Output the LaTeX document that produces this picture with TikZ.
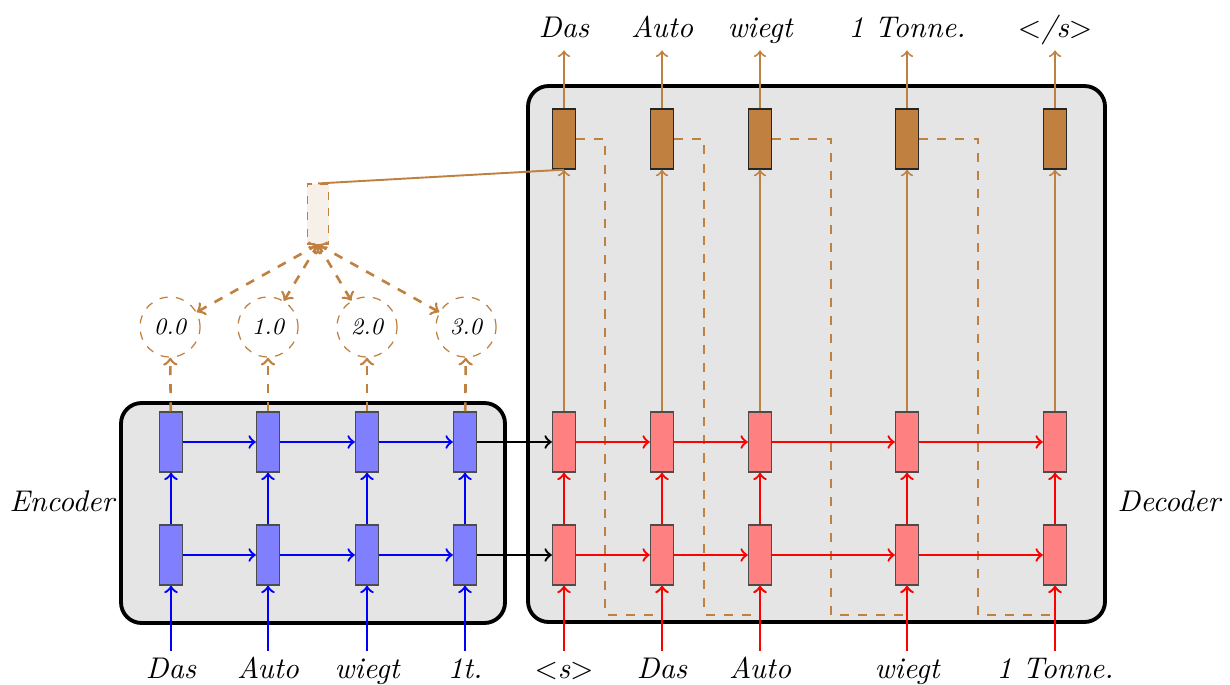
\documentclass[tikz,border=0pt]{standalone}
\begin{document}
\begin{tikzpicture}[x=0.0128cm,y=-0.0128cm,
  font=\fontsize{10.9pt}{13pt}\selectfont,
  cell/.style={draw=black!70, line width=0.5pt, minimum width=0.294cm, minimum height=0.768cm, inner sep=0pt},
  enc/.style={cell, fill=blue!50},
  dec/.style={cell, fill=red!50},
  outc/.style={cell, draw=black!85, fill=brown},
  attn/.style={draw=brown, dashed, fill=brown!12, minimum width=0.28cm, minimum height=0.768cm, inner sep=0pt},
  score/.style={circle, draw=brown, dashed, line width=0.45pt, minimum size=0.768cm, inner sep=0pt, font=\fontsize{8.6pt}{10pt}\selectfont\itshape},
  word/.style={font=\fontsize{10.9pt}{13pt}\selectfont\itshape, text height=7.5pt, text depth=2pt, inner ysep=2.5pt},
  side/.style={font=\fontsize{10.9pt}{13pt}\selectfont\itshape},
  panel/.style={draw=black, line width=1.4pt, fill=black!10, rounded corners=7.5pt},
  barr/.style={->, blue, line width=0.85pt},
  rarr/.style={->, red, line width=0.85pt},
  karr/.style={->, black, line width=0.85pt},
  oarr/.style={->, brown, line width=0.7pt},
  olink/.style={brown, line width=0.7pt},
  ddash/.style={brown, line width=0.95pt, dash pattern=on 3.3pt off 3.3pt},
  darr/.style={->, ddash},
  dboth/.style={<->, ddash},
  fb/.style={->, ddash, line width=0.8pt}
]
\useasboundingbox (0,0) rectangle (1230,684);

% panels
\draw[panel] (121,403) rectangle (505,623);
\draw[panel] (528,86) rectangle (1105,622);

% side labels
\node[side, anchor=east] (enclab) at (124,501) {Encoder};
\node[side, anchor=west] (declab) at (1108,501) {Decoder};

% encoder cells
\node[enc] (ea1) at (171,555) {};
\node[enc] (ea2) at (268,555) {};
\node[enc] (ea3) at (367,555) {};
\node[enc] (ea4) at (465,555) {};
\node[enc] (eb1) at (171,442) {};
\node[enc] (eb2) at (268,442) {};
\node[enc] (eb3) at (367,442) {};
\node[enc] (eb4) at (465,442) {};

% decoder cells
\node[dec] (da1) at (564,555) {};
\node[dec] (da2) at (662,555) {};
\node[dec] (da3) at (760,555) {};
\node[dec] (da4) at (907,555) {};
\node[dec] (da5) at (1055,555) {};
\node[dec] (db1) at (564,442) {};
\node[dec] (db2) at (662,442) {};
\node[dec] (db3) at (760,442) {};
\node[dec] (db4) at (907,442) {};
\node[dec] (db5) at (1055,442) {};

% output cells
\node[outc] (o1) at (564,139) {};
\node[outc] (o2) at (662,139) {};
\node[outc] (o3) at (760,139) {};
\node[outc] (o4) at (907,139) {};
\node[outc] (o5) at (1055,139) {};

% attention scores and context
\node[score] (s1) at (170,327) {0.0};
\node[score] (s2) at (268,327) {1.0};
\node[score] (s3) at (367,327) {2.0};
\node[score] (s4) at (466,327) {3.0};
\node[attn] (ctx) at (318,214) {};

% words
\node[word] (x1) at (171,671) {Das};
\node[word] (x2) at (268,671) {Auto};
\node[word] (x3) at (367,671) {wiegt};
\node[word] (x4) at (465,671) {1t.};
\node[word] (y1) at (564,671) {$<$s$>$};
\node[word] (y2) at (662,671) {Das};
\node[word] (y3) at (760,671) {Auto};
\node[word] (y4) at (907,671) {wiegt};
\node[word] (y5) at (1055,671) {1 Tonne.};
\node[word] (z1) at (564,30) {Das};
\node[word] (z2) at (662,30) {Auto};
\node[word] (z3) at (760,30) {wiegt};
\node[word] (z4) at (907,30) {1 Tonne.};
\node[word] (z5) at (1055,30) {$<$/s$>$};

% feedback paths
\draw[fb] (o1.east) -| (605,615) -| (da2.south);
\draw[fb] (o2.east) -| (704,615) -| (da3.south);
\draw[fb] (o3.east) -| (831,615) -| (da4.south);
\draw[fb] (o4.east) -| (978,615) -| (da5.south);

% encoder inputs and recurrences
\foreach \i in {1,2,3,4} {
  \draw[barr] (x\i) -- (ea\i);
  \draw[barr] (ea\i) -- (eb\i);
  \draw[darr] (eb\i) -- (s\i);
  \draw[dboth] (s\i) -- (ctx.south);
}
\draw[barr] (ea1) -- (ea2);
\draw[barr] (ea2) -- (ea3);
\draw[barr] (ea3) -- (ea4);
\draw[barr] (eb1) -- (eb2);
\draw[barr] (eb2) -- (eb3);
\draw[barr] (eb3) -- (eb4);
\draw[karr] (ea4) -- (da1);
\draw[karr] (eb4) -- (db1);

% decoder
\foreach \i in {1,2,3,4,5} {
  \draw[rarr] (y\i) -- (da\i);
  \draw[rarr] (da\i) -- (db\i);
  \draw[oarr] (db\i) -- (o\i);
  \draw[oarr] (o\i) -- (z\i);
}
\draw[rarr] (da1) -- (da2);
\draw[rarr] (da2) -- (da3);
\draw[rarr] (da3) -- (da4);
\draw[rarr] (da4) -- (da5);
\draw[rarr] (db1) -- (db2);
\draw[rarr] (db2) -- (db3);
\draw[rarr] (db3) -- (db4);
\draw[rarr] (db4) -- (db5);

% context to first output
\draw[olink] (ctx.north) -- (o1.south);
\end{tikzpicture}
\end{document}
